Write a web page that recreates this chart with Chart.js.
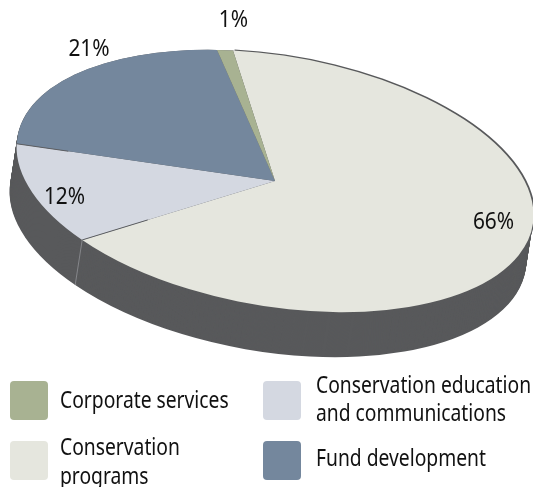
<!DOCTYPE html>
<html>
<head>
<meta charset="utf-8">
<style>
  html, body { margin: 0; padding: 0; background: #fff; overflow: hidden; }
  canvas { display: block; }
</style>
<script src="https://cdn.jsdelivr.net/npm/chart.js@4/dist/chart.umd.min.js"></script>
</head>
<body>
<canvas id="chart" width="533" height="487"></canvas>
<script>
// Chart data, clockwise from the top of the pie
const categories = ['Conservation programs', 'Conservation education and communications', 'Fund development', 'Corporate services'];
const shares = [66, 12, 21, 1];
const sliceColors = ['#e5e6de', '#d4d8e1', '#74879d', '#a8b292'];

// Legend wording and order
const legendRows = [
    { slice: 3, lines: ['Corporate services'], x: 10, y: 381, textX: 60, baselines: [408] },
    { slice: 0, lines: ['Conservation', 'programs'], x: 10, y: 441, textX: 60, baselines: [455, 484] },
    { slice: 1, lines: ['Conservation education', 'and communications'], x: 263, y: 381, textX: 316, baselines: [393, 421] },
    { slice: 2, lines: ['Fund development'], x: 263, y: 441, textX: 316, baselines: [466] }
];

// Where the percentage labels sit
const labelSpots = [
    { x: 493.5, y: 229 },
    { x: 64.5, y: 204 },
    { x: 89, y: 56 },
    { x: 233.5, y: 27 }
];

// The flat pie is sheared into the tilted ellipse of the reference
const tilt = { apexX: 275, apexY: 181, ax: 255, ay: 13, bx: 42, by: 130.5 };
const depth = { dx: -7, dy: 45, color: '#58595b' };

const FONT = '"Noto Sans"';

function applyTilt(ctx, chart, dx, dy) {
    const arc = chart.getDatasetMeta(0).data[0];
    const r = arc.outerRadius;
    ctx.translate(tilt.apexX + dx, tilt.apexY + dy);
    ctx.transform(tilt.ax / r, tilt.ay / r, tilt.bx / r, tilt.by / r, 0, 0);
    ctx.translate(-arc.x, -arc.y);
}

function fillSlice(ctx, arc) {
    ctx.beginPath();
    ctx.moveTo(arc.x, arc.y);
    ctx.arc(arc.x, arc.y, arc.outerRadius, arc.startAngle, arc.endAngle);
    ctx.closePath();
    ctx.fill();
}

// Screen position of a spot along a slice edge (frac 0 = apex, 1 = rim)
function edgePoint(angle, frac) {
    const c = Math.cos(angle) * frac, s = Math.sin(angle) * frac;
    return { x: tilt.apexX + tilt.ax * c + tilt.bx * s, y: tilt.apexY + tilt.ay * c + tilt.by * s };
}

function drawText(ctx, text, x, y, align, squeeze) {
    ctx.save();
    ctx.translate(x, y);
    ctx.scale(squeeze, 1);
    ctx.textAlign = align;
    ctx.textBaseline = 'alphabetic';
    ctx.fillText(text, 0, 0);
    ctx.restore();
}

const tiltedPie = {
    id: 'tiltedPie',
    beforeDatasetsDraw(chart) {
        const ctx = chart.ctx;
        const arcs = chart.getDatasetMeta(0).data;

        // side wall
        ctx.fillStyle = depth.color;
        for (let i = depth.dy; i >= 0; i--) {
            ctx.save();
            applyTilt(ctx, chart, depth.dx * i / depth.dy, i);
            arcs.forEach(arc => fillSlice(ctx, arc));
            ctx.restore();
        }

        // dark rim along the far edge of the big slice
        ctx.save();
        applyTilt(ctx, chart, 1.5, -1);
        fillSlice(ctx, arcs[0]);
        ctx.restore();

        // faint seam in the wall under the slice boundary
        const p = edgePoint(arcs[0].endAngle, 1);
        ctx.strokeStyle = '#85868a';
        ctx.lineWidth = 1;
        ctx.beginPath();
        ctx.moveTo(p.x, p.y);
        ctx.lineTo(p.x + depth.dx, p.y + depth.dy);
        ctx.stroke();

        ctx.save();
        applyTilt(ctx, chart, 0, 0);
    },
    afterDatasetsDraw(chart) {
        const ctx = chart.ctx;
        const arcs = chart.getDatasetMeta(0).data;
        ctx.restore();

        // short dark runs at the rim end of the two light boundaries
        ctx.strokeStyle = '#5d5f63';
        ctx.lineWidth = 1;
        [[arcs[0].endAngle, 0.66], [arcs[1].endAngle, 0.8]].forEach(([angle, from]) => {
            const a = edgePoint(angle, from), b = edgePoint(angle, 1);
            ctx.beginPath();
            ctx.moveTo(a.x, a.y);
            ctx.lineTo(b.x, b.y);
            ctx.stroke();
        });

        // percentage labels
        ctx.fillStyle = '#111';
        ctx.font = '24px ' + FONT;
        shares.forEach((v, i) => drawText(ctx, v + '%', labelSpots[i].x, labelSpots[i].y, 'center', 0.87));

        // legend
        legendRows.forEach(row => {
            ctx.fillStyle = sliceColors[row.slice];
            ctx.beginPath();
            ctx.roundRect(row.x, row.y, 38, 39, 4);
            ctx.fill();
            ctx.fillStyle = '#111';
            ctx.font = '23.5px ' + FONT;
            row.lines.forEach((line, i) => drawText(ctx, line, row.textX, row.baselines[i], 'left', 0.82));
        });
    }
};

new Chart(document.getElementById('chart'), {
    type: 'pie',
    data: {
        labels: categories,
        datasets: [{
            data: shares,
            backgroundColor: sliceColors,
            borderWidth: 0,
            hoverOffset: 0
        }]
    },
    options: {
        responsive: false,
        animation: false,
        layout: { padding: 0 },
        plugins: {
            legend: { display: false },
            tooltip: { enabled: false }
        }
    },
    plugins: [tiltedPie]
});
</script>
</body>
</html>
